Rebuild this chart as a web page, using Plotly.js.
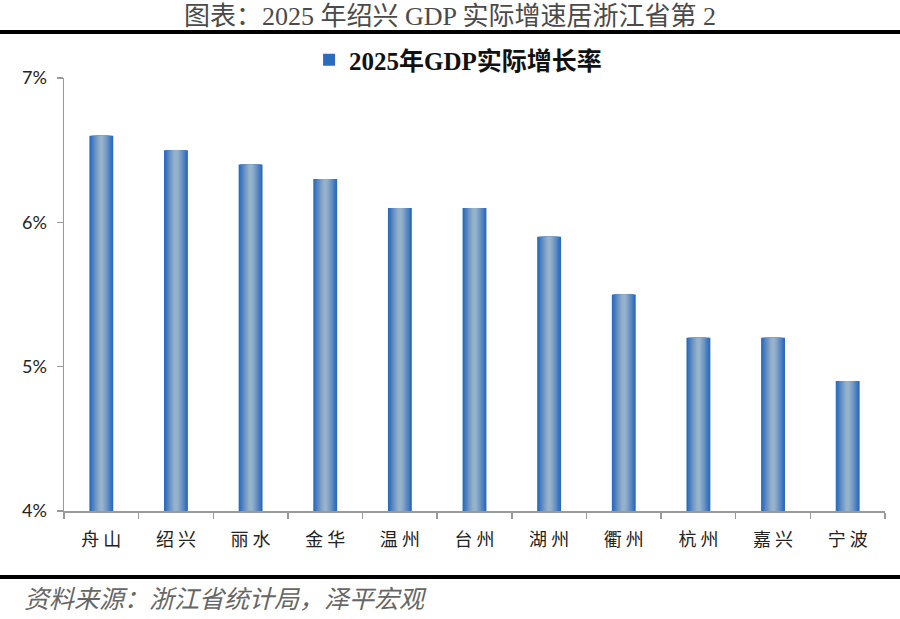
<!DOCTYPE html>
<html>
<head>
<meta charset="utf-8">
<script src="https://cdn.plot.ly/plotly-3.0.1.min.js"></script>
<style>html,body{margin:0;padding:0;background:#fff;}#chart{width:900px;height:619px;}</style>
</head>
<body>
<div id="chart"></div>
<script>
const categories = ["舟山","绍兴","丽水","金华","温州","台州","湖州","衢州","杭州","嘉兴","宁波"];
const tickLabels = ["舟 山","绍 兴","丽 水","金 华","温 州","台 州","湖 州","衢 州","杭 州","嘉 兴","宁 波"];
const growth2025 = [6.6, 6.5, 6.4, 6.3, 6.1, 6.1, 5.9, 5.5, 5.2, 5.2, 4.9];
const yTickVals = [4, 5, 6, 7];
const yTickText = ["4%", "5%", "6%", "7%"];
const seriesName = "2025年GDP实际增长率";

// gradient imitation: overlaid bars of decreasing width, lighter toward the centre
const layerWidths = [0.32, 0.28, 0.245, 0.21, 0.175, 0.14, 0.105, 0.07, 0.04];
const layerColors = ["#2c6bbd","#3a74be","#4a7fc0","#5a89c2","#6a93c4","#789cc6","#85a5c8","#90adca","#97b2cb"];

const traces = layerWidths.map((w, i) => ({
  type: "bar",
  x: categories,
  y: growth2025,
  width: w,
  name: seriesName,
  showlegend: i === 0,
  marker: { color: layerColors[i], line: { width: 0 } },
  hoverinfo: i === 0 ? "x+y" : "skip"
}));

const layout = {
  width: 900,
  height: 619,
  margin: { l: 64, r: 15, t: 78, b: 108 },
  paper_bgcolor: "#ffffff",
  plot_bgcolor: "#ffffff",
  barmode: "overlay",
  title: {
    text: "图表：2025 年绍兴 GDP 实际增速居浙江省第 2",
    font: { family: "Liberation Serif, Noto Sans CJK SC", size: 26, color: "#4a4a4a" },
    x: 0.5, xanchor: "center",
    y: 1 - 16 / 619, yref: "container", yanchor: "middle"
  },
  showlegend: true,
  legend: {
    orientation: "h",
    x: 0.48, xanchor: "center",
    y: 1 + 18 / 433, yanchor: "middle",
    font: { family: "Liberation Serif, Noto Sans CJK SC", size: 25, color: "#111", weight: "bold" },
    bgcolor: "rgba(0,0,0,0)",
    itemwidth: 30
  },
  xaxis: {
    type: "category",
    tickmode: "array",
    tickvals: categories,
    ticktext: tickLabels,
    tickson: "boundaries",
    ticks: "outside",
    ticklen: 6,
    tickcolor: "#9a9a9a",
    tickwidth: 1.5,
    showline: true,
    linecolor: "#9a9a9a",
    linewidth: 1.5,
    showgrid: false,
    zeroline: false,
    ticklabelstandoff: 12,
    tickfont: { family: "Noto Sans CJK SC", size: 18, color: "#222" },
    fixedrange: true
  },
  yaxis: {
    range: [4, 7],
    tickmode: "array",
    tickvals: yTickVals,
    ticktext: yTickText,
    ticks: "outside",
    ticklen: 6,
    tickcolor: "#9a9a9a",
    tickwidth: 1.5,
    showline: true,
    linecolor: "#9a9a9a",
    linewidth: 1.5,
    showgrid: false,
    zeroline: false,
    ticklabelstandoff: 6,
    tickfont: { family: "Lato, Liberation Sans", size: 18, color: "#222" },
    fixedrange: true
  },
  shapes: [
    { type: "line", xref: "paper", yref: "paper",
      x0: -64 / 821, x1: 1 + 15 / 821, y0: (511 - 32) / 433, y1: (511 - 32) / 433,
      line: { color: "#000", width: 4 } },
    { type: "line", xref: "paper", yref: "paper",
      x0: -64 / 821, x1: 1 + 15 / 821, y0: (511 - 577) / 433, y1: (511 - 577) / 433,
      line: { color: "#000", width: 4 } }
  ],
  annotations: [
    { text: "<i>资料来源：浙江省统计局，泽平宏观</i>",
      xref: "paper", yref: "paper",
      x: (22 - 64) / 821, xanchor: "left",
      y: (511 - 597) / 433, yanchor: "middle",
      showarrow: false,
      font: { family: "Noto Sans CJK SC", size: 25, color: "#666" } }
  ]
};

Plotly.newPlot("chart", traces, layout, { displayModeBar: false, staticPlot: true });
</script>
</body>
</html>
